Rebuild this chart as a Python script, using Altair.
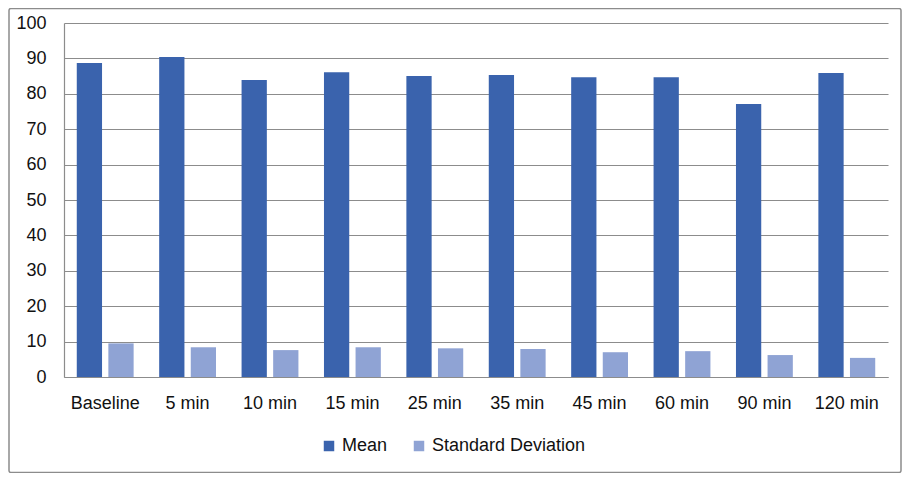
import altair as alt
import pandas as pd

categories = ["Baseline", "5 min", "10 min", "15 min", "25 min", "35 min",
              "45 min", "60 min", "90 min", "120 min"]
mean_vals = [88.7, 90.4, 83.9, 86.1, 85.0, 85.3, 84.7, 84.7, 77.1, 85.9]
sd_vals = [9.5, 8.4, 7.6, 8.4, 8.1, 7.9, 7.0, 7.3, 6.2, 5.4]
series = ["Mean", "Standard Deviation"]
colors = ["#3A63AD", "#8FA3D4"]
y_ticks = [0, 10, 20, 30, 40, 50, 60, 70, 80, 90, 100]

rows = []
for c, m, s in zip(categories, mean_vals, sd_vals):
    rows.append({"cat": c, "series": series[0], "value": m})
    rows.append({"cat": c, "series": series[1], "value": s})
df = pd.DataFrame(rows)

FONT = "Liberation Sans"

bars = alt.Chart(df).mark_bar().encode(
    x=alt.X("cat:N", sort=categories, title=None,
            scale=alt.Scale(paddingInner=0.31, paddingOuter=0.155),
            axis=alt.Axis(labelAngle=0, ticks=False, domainColor="#8c8c8c",
                          labelPadding=17, labelFontSize=18, labelColor="#111",
                          labelFont=FONT)),
    xOffset=alt.XOffset("series:N", sort=series,
                        scale=alt.Scale(paddingInner=0.2, paddingOuter=0)),
    y=alt.Y("value:Q", title=None,
            scale=alt.Scale(domain=[0, 100], nice=False),
            axis=alt.Axis(values=y_ticks, ticks=False, domainColor="#8c8c8c",
                          gridColor="#8c8c8c", gridWidth=1.2,
                          labelPadding=18, labelFontSize=18, labelColor="#111",
                          labelFont=FONT)),
    color=alt.Color("series:N", sort=series,
                    scale=alt.Scale(domain=series, range=colors),
                    legend=alt.Legend(title=None, orient="none", direction="horizontal",
                                      legendX=256, legendY=414,
                                      symbolType="square", symbolSize=110,
                                      symbolStrokeWidth=0, labelFontSize=18,
                                      labelFont=FONT, labelColor="#111",
                                      columnPadding=22)),
)

# decorative outer frame of the chart (not data)
frame = alt.Chart(pd.DataFrame({"f": [0]})).mark_rect(
    fill=None, stroke="#8c8c8c", strokeWidth=1.5, cornerRadius=2
).encode(
    x=alt.value(-55), x2=alt.value(837), y=alt.value(-14.5), y2=alt.value(449.5)
)

chart = alt.layer(bars, frame).properties(
    width=824, height=354,
    autosize=alt.AutoSizeParams(type="none"),
    padding={"left": 56, "top": 15, "right": 14, "bottom": 96},
).configure_view(stroke=None).configure_axis(
    domainWidth=1.2
)

chart.save("out.html", embed_options={"renderer": "svg", "actions": False})
